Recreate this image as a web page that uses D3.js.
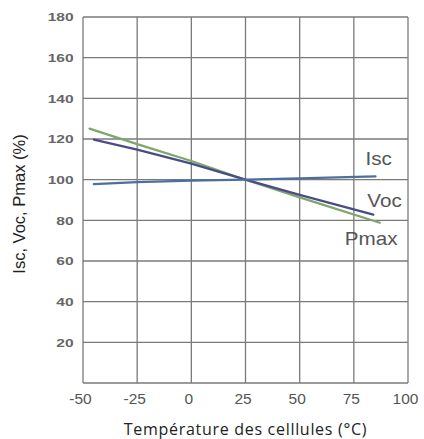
<!DOCTYPE html>
<html>
<head>
<meta charset="utf-8">
<script src="https://cdn.jsdelivr.net/npm/d3@7"></script>
<style>
  body { margin: 0; background: #fff; }
  svg { display: block; }
</style>
</head>
<body>
<div id="chart"></div>
<script>
// data
const xTicks = [-50, -25, 0, 25, 50, 75, 100];
const yTicks = [20, 40, 60, 80, 100, 120, 140, 160, 180];

const iscTemp = [-45, -25, 0, 25, 50, 85];
const iscValue = [97.8, 98.8, 99.5, 100, 100.6, 101.6];

const vocTemp = [-45, -25, 0, 25, 50, 84];
const vocValue = [119.7, 114.8, 107.9, 100, 92.5, 82.8];

const pmaxTemp = [-47, -25, 0, 25, 50, 87];
const pmaxValue = [125.1, 117.5, 109.2, 100, 91.3, 78.8];

const seriesNames = ["Isc", "Voc", "Pmax"];

// svg size
const width = 424;
const height = 439;

const margin = { top: 17, right: 16, bottom: 56, left: 83 };
const chartWidth = width - margin.left - margin.right;
const chartHeight = height - margin.top - margin.bottom;

const svg = d3.select("#chart").append("svg")
    .attr("width", width)
    .attr("height", height);

const chartGroup = svg.append("g")
    .attr("transform", `translate(${margin.left}, ${margin.top})`);

const x = d3.scaleLinear().domain([-50, 100]).range([0, chartWidth]);
const y = d3.scaleLinear().domain([0, 180]).range([chartHeight, 0]);

// grid
chartGroup.append("g")
    .selectAll("line")
    .data(xTicks)
    .enter().append("line")
    .attr("x1", d => x(d)).attr("x2", d => x(d))
    .attr("y1", 0).attr("y2", chartHeight)
    .attr("stroke", "#7a7a7a")
    .attr("stroke-width", 1.3);

chartGroup.append("g")
    .selectAll("line")
    .data([0].concat(yTicks))
    .enter().append("line")
    .attr("x1", 0).attr("x2", chartWidth)
    .attr("y1", d => y(d)).attr("y2", d => y(d))
    .attr("stroke", "#7a7a7a")
    .attr("stroke-width", 1.3);

// axes (the y labels in the original are stretched sideways)
const leftAxis = d3.axisLeft(y).tickValues(yTicks).tickSize(0).tickPadding(7);
const yAxis = chartGroup.append("g").call(leftAxis);
yAxis.select(".domain").remove();
yAxis.selectAll("text")
    .attr("fill", "#666")
    .attr("transform", "scale(1.35, 1)")
    .style("font-family", "Liberation Sans, Arial, sans-serif")
    .style("font-size", "11.5px")
    .style("font-weight", "bold");

const bottomAxis = d3.axisBottom(x).tickValues(xTicks).tickSize(0).tickPadding(10)
    .tickFormat(d => String(d));
const xAxis = chartGroup.append("g")
    .attr("transform", `translate(0, ${chartHeight})`)
    .call(bottomAxis);
xAxis.select(".domain").remove();
xAxis.selectAll("text")
    .attr("fill", "#555")
    .attr("dx", "-3")
    .style("font-family", "Liberation Sans, Arial, sans-serif")
    .style("font-size", "15.5px");

// lines
const line = d3.line()
    .x(d => x(d[0]))
    .y(d => y(d[1]));

const series = [
    { temp: iscTemp, value: iscValue, color: "#4c6f9e" },
    { temp: vocTemp, value: vocValue, color: "#4a4c88" },
    { temp: pmaxTemp, value: pmaxValue, color: "#7fa66b" }
];

// draw green first so the blue lines sit on top like the original
[series[2], series[1], series[0]].forEach(s => {
    chartGroup.append("path")
        .datum(s.temp.map((t, i) => [t, s.value[i]]))
        .attr("d", line)
        .attr("fill", "none")
        .attr("stroke", s.color)
        .attr("stroke-width", 2.2)
        .attr("stroke-linecap", "round");
});

// series labels near the end of each line
const labelOffsets = [[-10, -11], [-6, -8], [-35, 22]];
series.forEach((s, i) => {
    const last = s.temp.length - 1;
    const lx = x(s.temp[last]) + labelOffsets[i][0];
    const ly = y(s.value[last]) + labelOffsets[i][1];
    chartGroup.append("text")
        .attr("transform", `translate(${lx}, ${ly}) scale(1.18, 1)`)
        .attr("fill", "#555")
        .style("font-family", "Liberation Sans, Arial, sans-serif")
        .style("font-size", "17.5px")
        .text(seriesNames[i]);
});

// axis titles
svg.append("text")
    .attr("transform", `translate(25, 204) rotate(-90)`)
    .attr("text-anchor", "middle")
    .attr("fill", "#222")
    .style("font-family", "Liberation Sans, Arial, sans-serif")
    .style("font-size", "16.5px")
    .text("Isc, Voc, Pmax (%)");

svg.append("text")
    .attr("x", margin.left + chartWidth / 2)
    .attr("y", 435)
    .attr("text-anchor", "middle")
    .attr("fill", "#222")
    .style("font-family", "Open Sans, sans-serif")
    .style("font-size", "16px")
    .style("letter-spacing", "0.7px")
    .text("Température des celllules (°C)");
</script>
</body>
</html>
